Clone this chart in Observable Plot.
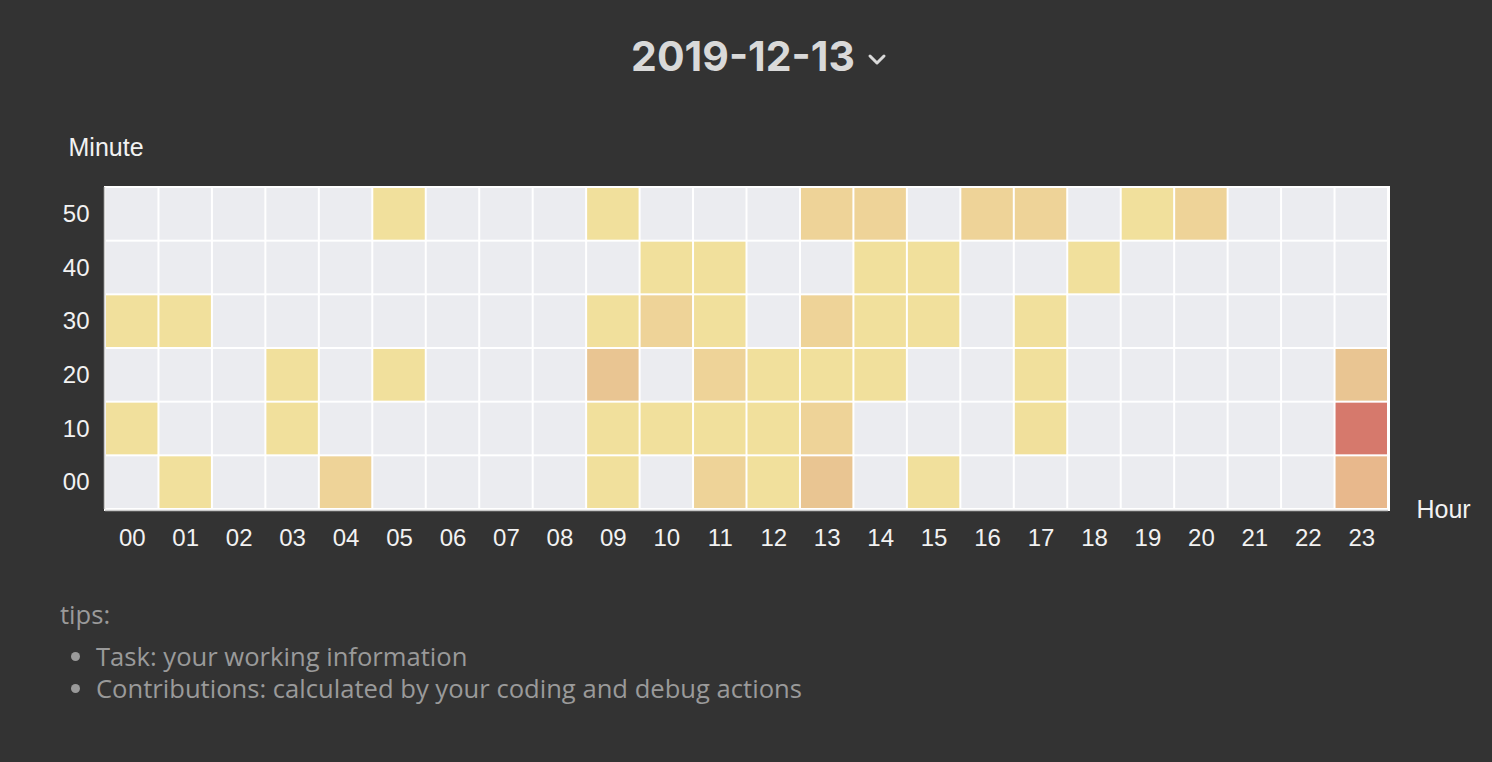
<!DOCTYPE html>
<html>
<head>
<meta charset="utf-8">
<script src="https://cdn.jsdelivr.net/npm/d3@7"></script>
<script src="https://cdn.jsdelivr.net/npm/@observablehq/plot@0.6"></script>
<style>
  html, body { margin: 0; padding: 0; background: #333333; width: 1492px; height: 762px; overflow: hidden; }
  #title { position: absolute; left: 14px; width: 1492px; top: 31px; text-align: center; font-family: Inter, "Liberation Sans", sans-serif; font-weight: 700; font-size: 41px; color: #d9d9d9; }
  #title svg { vertical-align: middle; margin-left: 10px; }
  #chart { position: absolute; left: 0; top: 120px; }
  #tips { position: absolute; left: 60px; top: 597px; font-family: "Open Sans", "Liberation Sans", sans-serif; font-size: 25.6px; color: #9a9a9a; }
  #tips ul { margin: 9px 0 0 0; padding-left: 36px; }
  #tips li { line-height: 32px; }
</style>
</head>
<body>
<div id="title">2019-12-13<svg width="24" height="18" viewBox="0 0 24 18"><path d="M5 5 L12 12 L19 5" fill="none" stroke="#d9d9d9" stroke-width="3" stroke-linecap="round" stroke-linejoin="round"/></svg></div>
<div id="chart"></div>
<div id="tips">tips:
  <ul>
    <li>Task: your working information</li>
    <li>Contributions: calculated by your coding and debug actions</li>
  </ul>
</div>
<script>
const hours = ["00","01","02","03","04","05","06","07","08","09","10","11","12","13","14","15","16","17","18","19","20","21","22","23"];
const minutes = ["50","40","30","20","10","00"];
// contribution level per hour (0 = none)
const min50 = [0,0,0,0,0,1,0,0,0,1,0,0,0,2,2,0,2,2,0,1,2,0,0,0];
const min40 = [0,0,0,0,0,0,0,0,0,0,1,1,0,0,1,1,0,0,1,0,0,0,0,0];
const min30 = [1,1,0,0,0,0,0,0,0,1,2,1,0,2,1,1,0,1,0,0,0,0,0,0];
const min20 = [0,0,0,1,0,1,0,0,0,3,0,2,1,1,1,0,0,1,0,0,0,0,0,3];
const min10 = [1,0,0,1,0,0,0,0,0,1,1,1,1,2,0,0,0,1,0,0,0,0,0,5];
const min00 = [0,1,0,0,2,0,0,0,0,1,0,2,1,3,0,1,0,0,0,0,0,0,0,4];
const levels = [0,1,2,3,4,5];
const levelColors = ["#ebecf0","#f1e09c","#eed398","#e9c592","#e8b88c","#d6796c"];

const rows = {"50": min50, "40": min40, "30": min30, "20": min20, "10": min10, "00": min00};
const data = [];
for (const m of minutes) rows[m].forEach((v, i) => data.push({hour: hours[i], minute: m, value: v}));

const font = "'Liberation Sans', Helvetica, Arial, sans-serif";
const W = 1492, ML = 105, MR = 104, H = 450, MT = 67, MB = 61;
const bw = (W - ML - MR) / hours.length;
const bh = (H - MT - MB) / minutes.length;
const plot = Plot.plot({
  width: W,
  height: H,
  marginLeft: ML,
  marginRight: MR,
  marginTop: MT,
  marginBottom: MB,
  style: {background: "transparent", color: "#f2f2f2", fontFamily: font, fontSize: "24px"},
  x: {domain: hours, padding: 0, round: false, label: null},
  y: {domain: minutes, padding: 0, round: false, label: null},
  color: {type: "ordinal", domain: levels, range: levelColors},
  marks: [
    Plot.frame({fill: "white", inset: -1.5}),
    Plot.cell(data, {x: "hour", y: "minute", fill: "value", inset: 1}),
    Plot.ruleY(["00"], {dy: bh / 2 + 1, stroke: "#c8c8c8", strokeWidth: 1.5}),
    Plot.ruleX(["00"], {dx: -bw / 2 - 1, stroke: "#c8c8c8", strokeWidth: 1.5}),
    Plot.axisX({tickSize: 0, tickPadding: 19, fontSize: 24, fill: "#f2f2f2", label: null}),
    Plot.axisY({tickSize: 0, tickPadding: 16, fontSize: 24, fill: "#f2f2f2", label: null}),
    Plot.text(["Minute"], {frameAnchor: "top-left", dx: -37, dy: -40, textAnchor: "start", lineAnchor: "middle", fontSize: 25, fill: "#f2f2f2"}),
    Plot.text(["Hour"], {frameAnchor: "bottom-right", dx: 28, dy: 0, textAnchor: "start", lineAnchor: "middle", fontSize: 25, fill: "#f2f2f2"})
  ]
});
document.getElementById("chart").appendChild(plot);
</script>
</body>
</html>
